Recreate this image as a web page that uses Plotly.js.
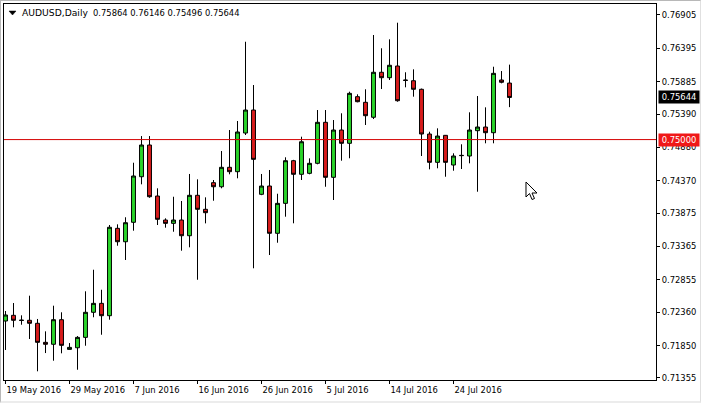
<!DOCTYPE html>
<html>
<head>
<meta charset="utf-8">
<script src="https://cdn.plot.ly/plotly-3.0.1.min.js"></script>
<style>
  html, body { margin: 0; padding: 0; background: #ffffff; }
  #wrap { position: relative; width: 701px; height: 403px; overflow: hidden; }
  #chart { width: 701px; height: 403px; }
  #frame { position: absolute; left: 0; top: 0; width: 701px; height: 403px; box-sizing: border-box;
           border-top: 1px solid #b8b8b8; border-left: 1px solid #b8b8b8; border-right: 1px solid #e0e0e0;
           border-bottom: 2px solid #ececec; pointer-events: none; }
</style>
</head>
<body>
<div id="wrap">
  <div id="chart"></div>
  <div id="frame"></div>
</div>
<script>
// ---- data (AUDUSD daily) ----
const dates = [
  "2016-05-19","2016-05-20","2016-05-22","2016-05-23","2016-05-24","2016-05-25","2016-05-26","2016-05-27",
  "2016-05-29","2016-05-30","2016-05-31","2016-06-01","2016-06-02","2016-06-03","2016-06-05","2016-06-06",
  "2016-06-07","2016-06-08","2016-06-09","2016-06-10","2016-06-12","2016-06-13","2016-06-14","2016-06-15",
  "2016-06-16","2016-06-17","2016-06-19","2016-06-20","2016-06-21","2016-06-22","2016-06-23","2016-06-24",
  "2016-06-26","2016-06-27","2016-06-28","2016-06-29","2016-06-30","2016-07-01","2016-07-03","2016-07-04",
  "2016-07-05","2016-07-06","2016-07-07","2016-07-08","2016-07-10","2016-07-11","2016-07-12","2016-07-13",
  "2016-07-14","2016-07-15","2016-07-17","2016-07-18","2016-07-19","2016-07-20","2016-07-21","2016-07-22",
  "2016-07-24","2016-07-25","2016-07-26","2016-07-27","2016-07-28","2016-07-29","2016-07-31","2016-08-01"
];
const openP = [
  0.72226,0.72313,0.72240,0.72237,0.72191,0.71900,0.71870,0.72246,
  0.71792,0.71817,0.71976,0.72359,0.72496,0.72307,0.73643,0.73438,
  0.73735,0.74432,0.74917,0.74137,0.73770,0.73719,0.73770,0.73530,
  0.74148,0.73934,0.74341,0.74279,0.74576,0.74509,0.75100,0.75452,
  0.74163,0.74290,0.73567,0.74025,0.74677,0.74469,0.74484,0.74637,
  0.75264,0.74423,0.75146,0.74943,0.75656,0.75570,0.75341,0.76029,
  0.75946,0.76125,0.75911,0.75900,0.75769,0.75085,0.74652,0.75065,
  0.74611,0.74754,0.74749,0.75136,0.75192,0.75105,0.75911,0.75864
];
const highP = [
  0.72379,0.72501,0.72313,0.72613,0.72257,0.72068,0.72460,0.72359,
  0.71889,0.71996,0.72680,0.73010,0.72704,0.73694,0.73704,0.73812,
  0.74646,0.75054,0.75054,0.74255,0.73796,0.74126,0.74061,0.74474,
  0.74392,0.74117,0.74382,0.74825,0.75146,0.75284,0.76496,0.75834,
  0.74474,0.74535,0.74172,0.74729,0.74690,0.75044,0.74713,0.75452,
  0.75452,0.75299,0.75402,0.75732,0.75692,0.75769,0.76599,0.76396,
  0.76533,0.76787,0.76029,0.76074,0.75780,0.75120,0.75172,0.75070,
  0.74790,0.74928,0.75417,0.75666,0.75493,0.76114,0.76048,0.76146
];
const lowP = [
  0.71783,0.72130,0.72169,0.71951,0.71457,0.71736,0.71619,0.71732,
  0.71790,0.71481,0.71848,0.72283,0.72016,0.72246,0.73377,0.73159,
  0.73607,0.74316,0.74110,0.73694,0.73653,0.73591,0.73301,0.73353,
  0.72857,0.73719,0.74065,0.74255,0.74469,0.74408,0.75070,0.73032,
  0.74150,0.73235,0.73423,0.73821,0.73720,0.74382,0.74469,0.74622,
  0.74279,0.74076,0.74677,0.74714,0.75570,0.75223,0.75314,0.75773,
  0.75911,0.75579,0.75799,0.75656,0.74749,0.74545,0.74561,0.74432,
  0.74524,0.74550,0.74637,0.74203,0.74943,0.74943,0.75860,0.75496
];
const closeP = [
  0.72318,0.72237,0.72235,0.72191,0.71900,0.71870,0.72246,0.71854,
  0.71823,0.71976,0.72359,0.72496,0.72307,0.73659,0.73438,0.73729,
  0.74443,0.74917,0.74126,0.73781,0.73719,0.73770,0.73530,0.74148,
  0.73934,0.73882,0.74279,0.74576,0.74509,0.75116,0.75452,0.74698,
  0.74290,0.73567,0.74025,0.74677,0.74469,0.74967,0.74637,0.75264,
  0.74423,0.75146,0.74943,0.75707,0.75579,0.75365,0.76029,0.75946,
  0.76136,0.75594,0.75905,0.75769,0.75085,0.74652,0.75054,0.74652,
  0.74749,0.74758,0.75146,0.75192,0.75105,0.76013,0.75876,0.75644
];
const xTickDates  = ["2016-05-19","2016-05-29","2016-06-07","2016-06-16","2016-06-26","2016-07-05","2016-07-14","2016-07-24"];
const xTickLabels = ["19 May 2016","29 May 2016","7 Jun 2016","16 Jun 2016","26 Jun 2016","5 Jul 2016","14 Jul 2016","24 Jul 2016"];
const yTickValues = [0.76905,0.76395,0.75885,0.75390,0.74880,0.74370,0.73875,0.73365,0.72855,0.72360,0.71850,0.71355];
const yTickLabels = ["0.76905","0.76395","0.75885","0.75390","0.74880","0.74370","0.73875","0.73365","0.72855","0.72360","0.71850","0.71355"];
const symbolName = "AUDUSD,Daily";
const levelLine = 0.75000;
const levelLabel = "0.75000";
const lastPrice = closeP[closeP.length - 1];
const lastLabel = "0.75644";
const headerValues = "0.75864 0.76146 0.75496 0.75644";

// ---- geometry helpers (layout, in pixels) ----
const W = 701, H = 403;
const M = { l: 4, r: 45, t: 4, b: 23 };
const PW = W - M.l - M.r, PH = H - M.t - M.b;
const px = x => (x - M.l) / PW;
const py = y => (H - M.b - y) / PH;
function pathFromPixels(pts) {
  return pts.map((p, i) => (i ? 'L' : 'M') + px(p[0]).toFixed(5) + ',' + py(p[1]).toFixed(5)).join(' ') + ' Z';
}
const cursorTip = [526, 182];
const cursorPts = [[0,0],[0,15],[3.5,11.5],[6,17.5],[8.5,16.5],[6,11],[11,11]]
  .map(p => [cursorTip[0] + p[0], cursorTip[1] + p[1]]);
const triPts = [[9, 11], [16, 11], [12.5, 15]];

const FONT = "DejaVu Sans, Verdana, sans-serif";

const trace = {
  type: 'candlestick',
  x: dates, open: openP, high: highP, low: lowP, close: closeP,
  increasing: { line: { color: '#000000', width: 1 }, fillcolor: '#2ad52a' },
  decreasing: { line: { color: '#000000', width: 1 }, fillcolor: '#d81c1c' },
  whiskerwidth: 0,
  hoverinfo: 'skip',
  showlegend: false
};

const layout = {
  width: W, height: H,
  margin: M,
  paper_bgcolor: '#ffffff', plot_bgcolor: '#ffffff',
  showlegend: false,
  hovermode: false,
  font: { family: FONT, size: 8.4, color: '#000000' },
  xaxis: {
    type: 'category',
    range: [-0.1875, 81.3125],
    rangeslider: { visible: false },
    tickmode: 'array', tickvals: xTickDates, ticktext: xTickLabels,
    ticks: 'outside', ticklen: 3, tickwidth: 1, tickcolor: '#000000',
    ticklabelposition: 'outside right',
    ticklabelstandoff: 2,
    showgrid: false, zeroline: false,
    showline: true, linecolor: '#000000', linewidth: 1, mirror: true,
    tickfont: { family: FONT, size: 8.4, color: '#000000' },
    fixedrange: true
  },
  yaxis: {
    side: 'right',
    range: [0.71324, 0.77073],
    tickmode: 'array', tickvals: yTickValues, ticktext: yTickLabels,
    ticks: 'outside', ticklen: 3, tickwidth: 1, tickcolor: '#000000',
    showgrid: false, zeroline: false,
    showline: true, linecolor: '#000000', linewidth: 1, mirror: true,
    tickfont: { family: FONT, size: 8.4, color: '#000000' },
    fixedrange: true
  },
  shapes: [
    { type: 'line', xref: 'paper', yref: 'y', x0: 0, x1: 1, y0: levelLine, y1: levelLine,
      line: { color: '#d40000', width: 1 } },
    { type: 'path', xref: 'paper', yref: 'paper', path: pathFromPixels(cursorPts),
      fillcolor: '#ffffff', line: { color: '#000000', width: 1 } },
    { type: 'path', xref: 'paper', yref: 'paper', path: pathFromPixels(triPts),
      fillcolor: '#000000', line: { color: '#000000', width: 0.5 } }
  ],
  annotations: [
    { xref: 'paper', yref: 'paper', x: px(20), y: py(12.7), xanchor: 'left', yanchor: 'middle',
      text: symbolName, showarrow: false, font: { family: FONT, size: 9.2, color: '#000000' } },
    { xref: 'paper', yref: 'paper', x: px(91), y: py(12.7), xanchor: 'left', yanchor: 'middle',
      text: headerValues, showarrow: false, font: { family: FONT, size: 8.4, color: '#000000' } },
    { xref: 'paper', yref: 'y', x: 1, y: lastPrice, xanchor: 'left', yanchor: 'middle', xshift: 2,
      text: lastLabel, showarrow: false, bgcolor: '#000000', borderpad: 1, width: 38, align: 'center',
      font: { family: FONT, size: 8.4, color: '#ffffff' } },
    { xref: 'paper', yref: 'y', x: 1, y: levelLine, xanchor: 'left', yanchor: 'middle', xshift: 2,
      text: levelLabel, showarrow: false, bgcolor: '#f01818', borderpad: 1, width: 38, align: 'center',
      font: { family: FONT, size: 8.4, color: '#ffffff' } }
  ]
};

Plotly.newPlot('chart', [trace], layout, { displayModeBar: false, staticPlot: true });
</script>
</body>
</html>
